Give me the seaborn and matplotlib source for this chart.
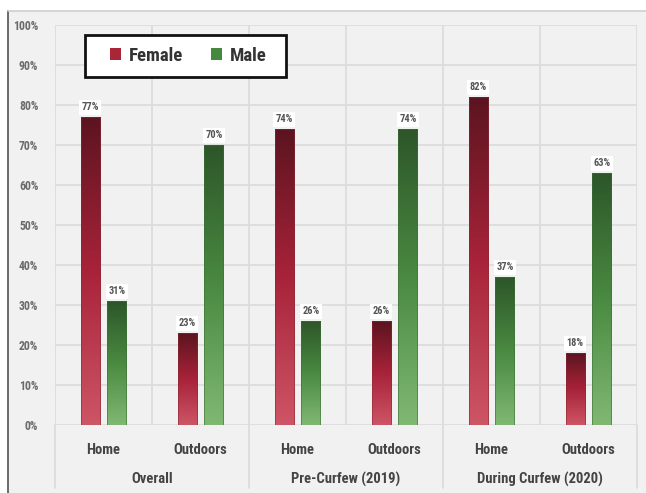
import numpy as np
import pandas as pd
import matplotlib
matplotlib.use("Agg")
import matplotlib.pyplot as plt
import seaborn as sns
from matplotlib import font_manager
from matplotlib.colors import LinearSegmentedColormap
from matplotlib.patches import Patch, Rectangle
from matplotlib.ticker import PercentFormatter
import matplotlib.transforms as mtransforms

# --- data ---------------------------------------------------------------
groups = ["Overall", "Pre-Curfew (2019)", "During Curfew (2020)"]
places = ["Home", "Outdoors"]
female = [77, 23, 74, 26, 82, 18]
male = [31, 70, 26, 74, 37, 63]
yticks = [0, 10, 20, 30, 40, 50, 60, 70, 80, 90, 100]

cats = [f"{g}|{p}" for g in groups for p in places]
df = pd.DataFrame({
    "cat": cats * 2,
    "value": female + male,
    "sex": ["Female"] * len(cats) + ["Male"] * len(cats),
})

# --- fonts --------------------------------------------------------------
installed = {f.name for f in font_manager.fontManager.ttflist}
narrow = next((f for f in ["Roboto Condensed", "Liberation Sans Narrow",
                           "Open Sans Condensed", "DejaVu Sans"] if f in installed),
              "DejaVu Sans")

sns.set_theme(style="white")
plt.rcParams["font.family"] = [narrow, "DejaVu Sans"]
plt.rcParams["font.weight"] = "bold"

BG = "#f1f1f1"
GRID = "#dcdcdc"

fig = plt.figure(figsize=(6.46, 4.93), dpi=100, facecolor="white")
# panel behind the chart
fig.patches.append(Rectangle((8 / 646, 0), 1, 1 - 11 / 493, transform=fig.transFigure,
                             facecolor=BG, edgecolor="none", zorder=-10))
fig.add_artist(plt.Line2D([8 / 646, 8 / 646], [0, 1 - 11 / 493], transform=fig.transFigure,
                          color="#6a6a6a", lw=1.4))
fig.add_artist(plt.Line2D([8 / 646, 1], [1 - 11 / 493, 1 - 11 / 493], transform=fig.transFigure,
                          color="#cfcfcf", lw=1.2))

ax = fig.add_axes([55 / 646, 1 - 425 / 493, 582 / 646, 400 / 493])
ax.set_facecolor(BG)

sns.barplot(data=df, x="cat", y="value", hue="sex", order=cats,
            hue_order=["Female", "Male"], palette=["#a02030", "#3f7a39"],
            width=0.556, gap=0.295, legend=False, ax=ax, zorder=3)

# gradient fills: dark at the top of each bar, light at its base
cmaps = {
    0: LinearSegmentedColormap.from_list("f", ["#cd5566", "#a82339", "#5c1420"]),
    1: LinearSegmentedColormap.from_list("m", ["#80b873", "#4a8a41", "#2d5629"]),
}
edges = {0: "#8a2a36", 1: "#3d6e37"}
grad = np.linspace(0, 1, 256).reshape(-1, 1)
for ci, cont in enumerate(ax.containers):
    for bar in cont:
        x0, y0 = bar.get_x(), bar.get_y()
        w, h = bar.get_width(), bar.get_height()
        bar.set_facecolor("none")
        bar.set_edgecolor(edges[ci])
        bar.set_linewidth(0.4)
        bar.set_zorder(4)
        im = ax.imshow(grad, cmap=cmaps[ci], origin="lower", aspect="auto",
                       extent=(x0, x0 + w, y0, y0 + h), zorder=3)
        im.set_clip_path(bar)
    ax.bar_label(cont, labels=[f"{v:.0f}%" for v in cont.datavalues], padding=3.5,
                 fontsize=7.5, fontweight="bold", color="#555555", zorder=5,
                 bbox=dict(boxstyle="square,pad=0.25", fc="white", ec="none"))
ax.set_xlim(-0.5, len(cats) - 0.5)
ax.set_ylim(0, 100)

# grid
ax.set_yticks(yticks)
ax.yaxis.set_major_formatter(PercentFormatter(decimals=0))
for y in yticks:
    ax.axhline(y, color=GRID, lw=1.3, zorder=1)
for x in np.arange(-0.5, len(cats), 1.0):
    ax.axvline(x, color=GRID, lw=1.3, zorder=1)

for s in ax.spines.values():
    s.set_visible(False)

ax.tick_params(axis="y", length=0, pad=12, labelsize=8.5, labelcolor="#6a6a6a")
ax.set_xticks(range(len(cats)))
ax.set_xticklabels([c.split("|")[1] for c in cats])
ax.tick_params(axis="x", length=0, pad=13, labelsize=10.5, labelcolor="#444444")
ax.set_xlabel("")
ax.set_ylabel("")

# group separators and group names
trans = mtransforms.blended_transform_factory(ax.transData, ax.transAxes)
for x in np.arange(-0.5, len(cats), 2.0):
    ax.plot([x, x], [0, -0.158], transform=trans, color=GRID, lw=1.3, clip_on=False)
for i, g in enumerate(groups):
    ax.text(2 * i + 0.5, -0.135, g, transform=trans, ha="center", va="center",
            fontsize=10.5, color="#444444", fontweight="bold")

# legend: black-bordered white box with the entries centred inside
box = Rectangle((30 / 582, 348 / 400), 201 / 582, 42 / 400, transform=ax.transAxes,
                facecolor="white", edgecolor="#111111", lw=2, zorder=6)
ax.add_patch(box)
handles = [Patch(facecolor="#a82638", edgecolor="none", label="Female"),
           Patch(facecolor="#44893d", edgecolor="none", label="Male")]
leg = ax.legend(handles=handles, loc="center", bbox_to_anchor=(133 / 582, 369 / 400),
                ncol=2, frameon=False, fontsize=13.5, borderaxespad=0,
                handlelength=0.6, handleheight=0.6, handletextpad=0.4,
                columnspacing=1.5, borderpad=0, labelcolor="#333333")
leg.set_zorder(7)
for t in leg.get_texts():
    t.set_fontweight("bold")

fig.savefig("out.png", dpi=100, facecolor=fig.get_facecolor())
